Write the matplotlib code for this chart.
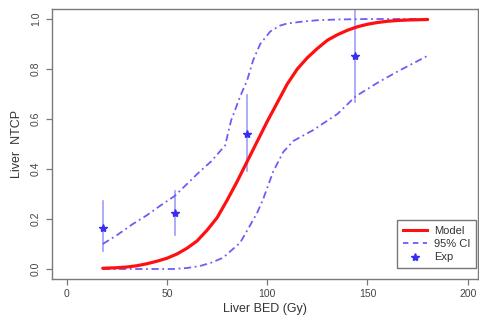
import matplotlib
matplotlib.use("Agg")
import matplotlib.pyplot as plt
from matplotlib.lines import Line2D

plt.rcParams['font.family'] = ['Liberation Sans', 'DejaVu Sans']

# Model NTCP curve
model_x = [18, 25, 30, 35, 40, 45, 50, 55, 60, 65, 70, 75, 80, 85, 90, 95, 100, 105, 110, 115, 120,
           125, 130, 135, 140, 145, 150, 155, 160, 165, 170, 175, 180]
model_y = [0.003, 0.005, 0.008, 0.013, 0.021, 0.031, 0.043, 0.06, 0.083, 0.112, 0.155, 0.205, 0.275,
           0.35, 0.43, 0.51, 0.59, 0.665, 0.74, 0.80, 0.845, 0.882, 0.915, 0.937, 0.955, 0.969, 0.979,
           0.986, 0.991, 0.994, 0.996, 0.997, 0.998]

# Upper 95% CI
ci_up_x = [18, 25, 33, 40, 47, 54, 60, 66, 72, 79, 82, 86.5, 90, 93, 96.5, 101.5, 106.5, 110, 118, 125, 135, 150, 165, 180]
ci_up_y = [0.10, 0.135, 0.18, 0.215, 0.255, 0.293, 0.34, 0.387, 0.43, 0.494, 0.594, 0.69, 0.755, 0.835,
           0.90, 0.950, 0.974, 0.982, 0.99, 0.995, 0.998, 1.0, 1.0, 1.0]

# Lower 95% CI
ci_lo_x = [18, 25, 35, 45, 53, 60, 66.5, 72, 78, 81.5, 86.5, 91.5, 95, 98, 103, 108, 113, 123, 135, 144, 155, 165, 180.5]
ci_lo_y = [0.0, 0.0, 0.0, 0.0, 0.0, 0.004, 0.012, 0.025, 0.045, 0.07, 0.105, 0.175, 0.225, 0.28, 0.39, 0.468,
           0.512, 0.556, 0.62, 0.69, 0.745, 0.79, 0.855]

# Experimental points with error bars
exp_x = [18, 54, 90, 144]
exp_y = [0.166, 0.224, 0.541, 0.851]
exp_lo = [0.072, 0.137, 0.394, 0.668]
exp_hi = [0.273, 0.313, 0.695, 1.06]

xticks = [0, 50, 100, 150, 200]
yticks = [0.0, 0.2, 0.4, 0.6, 0.8, 1.0]

W, H = 479, 322
fig = plt.figure(figsize=(W / 100, H / 100), dpi=100)
ax = fig.add_axes([52 / W, (H - 279) / H, (478 - 52) / W, 270 / H])

blue_ci = '#6f5cf5'
blue_err = '#a0a0f8'
blue_pt = '#3a2cf0'

for x, lo, hi in zip(exp_x, exp_lo, exp_hi):
    ax.plot([x, x], [lo, hi], color=blue_err, lw=1.2, zorder=2)
ax.plot(exp_x, exp_y, linestyle='none', marker='*', color=blue_pt, markersize=6, zorder=4)

ax.plot(ci_up_x, ci_up_y, color=blue_ci, lw=1.3, dashes=(4, 2, 1, 2), zorder=3)
ax.plot(ci_lo_x, ci_lo_y, color=blue_ci, lw=1.3, dashes=(4, 2, 1, 2), zorder=3)
ax.plot(model_x, model_y, color='#ff1010', lw=2.3, zorder=5, solid_capstyle='round')

ax.set_xlim(-7.3, 205.1)
ax.set_ylim(-0.04, 1.04)
ax.set_xticks(xticks)
ax.set_xticklabels([str(t) for t in xticks])
ax.set_yticks(yticks)
ax.set_yticklabels([f"{t:.1f}" for t in yticks], rotation=90, va='center')

for s in ax.spines.values():
    s.set_color('#7a7a7a')
    s.set_linewidth(1.0)
ax.tick_params(axis='both', colors='#7a7a7a', labelcolor='#444444', labelsize=7.5, length=4, width=0.9)
ax.tick_params(axis='x', pad=3)
ax.tick_params(axis='y', pad=4)

ax.set_xlabel('Liver BED (Gy)', fontsize=9, color='#333333', labelpad=3)
ax.set_ylabel('Liver  NTCP', fontsize=9, color='#333333', labelpad=6)

handles = [
    Line2D([0], [0], color='#ff1010', lw=2.2),
    Line2D([0], [0], color=blue_ci, lw=1.3, dashes=(3, 2.5)),
    Line2D([0], [0], color=blue_pt, marker='*', linestyle='none', markersize=6),
]
leg = ax.legend(handles, ['Model', '95% CI', 'Exp'], loc='lower right', fontsize=8,
                frameon=True, fancybox=False, edgecolor='#555555', handlelength=2.2,
                borderpad=0.5, labelspacing=0.3, handletextpad=0.6, borderaxespad=0,
                bbox_to_anchor=(476 / W, (H - 268) / H), bbox_transform=fig.transFigure)
leg.get_frame().set_linewidth(1.0)
for t in leg.get_texts():
    t.set_color('#333333')

fig.savefig('out.png', dpi=100)
